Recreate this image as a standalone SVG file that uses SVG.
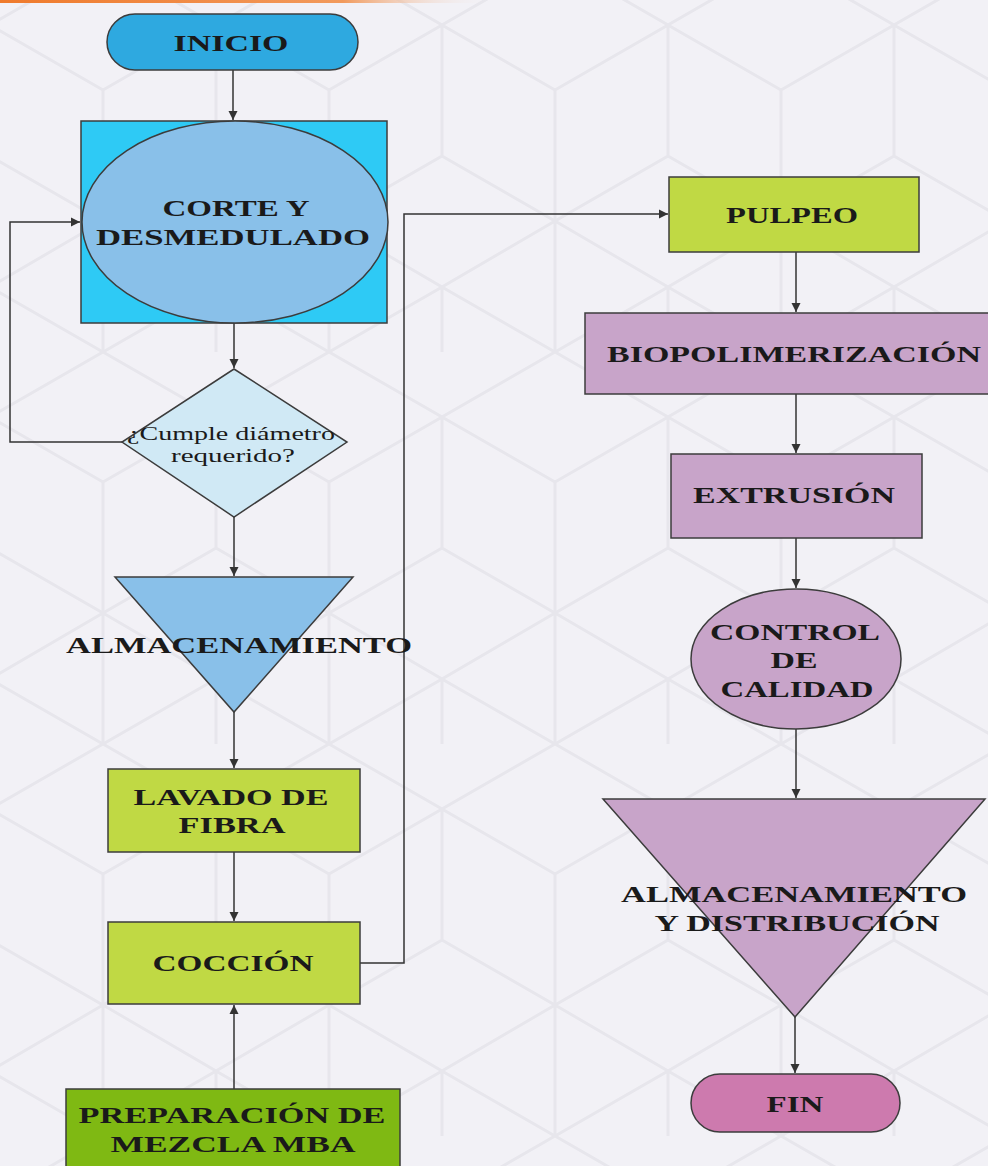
<svg xmlns="http://www.w3.org/2000/svg" width="988" height="1166" viewBox="0 0 988 1166">
<style>
.s{stroke:#3c3c3c;stroke-width:1.5}
.t{font-family:"Liberation Serif","Times New Roman",serif;font-weight:bold;font-size:23px;fill:#1a1a1a;text-anchor:middle}
.r{font-family:"Liberation Serif","Times New Roman",serif;font-size:18px;fill:#1a1a1a;text-anchor:middle}
.c{fill:none;stroke:#333;stroke-width:1.5}
</style>
<defs>
<marker id="ah" viewBox="0 0 10 10" refX="10" refY="5" markerWidth="9" markerHeight="10" markerUnits="userSpaceOnUse" orient="auto">
<path d="M0,0 L10,5 L0,10 Z" fill="#333"/>
</marker>
<linearGradient id="og" x1="0" x2="1" y1="0" y2="0">
<stop offset="0" stop-color="#ef7a2c"/>
<stop offset="0.7" stop-color="#f29a5c"/>
<stop offset="1" stop-color="#f2f1f6" stop-opacity="0"/>
</linearGradient>
<pattern id="hex" width="226" height="392" patternUnits="userSpaceOnUse" x="-10" y="-40">
<g fill="none" stroke="#e7e6ec" stroke-width="3">
<path d="M0,65 L113,0 L226,65 M113,0 L113,-130 M0,65 L0,196 L113,261 L226,196 L226,65 M113,130 L0,65 M113,130 L226,65 M113,130 L113,261 M113,261 L113,392 M0,196 L-113,261 M226,196 L339,261 M0,327 L113,392 L226,327 M0,327 L0,392 M226,327 L226,392 M0,327 L113,261 M226,327 L113,261"/>
</g>
</pattern>
</defs>
<rect width="988" height="1166" fill="#f2f1f6"/>
<rect width="988" height="1166" fill="url(#hex)"/>
<rect x="0" y="0" width="490" height="3" fill="url(#og)"/>

<g id="connectors">
<path class="c" d="M233,70 L233,120" marker-end="url(#ah)"/>
<path class="c" d="M234,323 L234,368" marker-end="url(#ah)"/>
<path class="c" d="M122,442 L10,442 L10,222 L80,222" marker-end="url(#ah)"/>
<path class="c" d="M234,517 L234,576" marker-end="url(#ah)"/>
<path class="c" d="M234,712 L234,768" marker-end="url(#ah)"/>
<path class="c" d="M234,852 L234,921" marker-end="url(#ah)"/>
<path class="c" d="M234,1089 L234,1005" marker-end="url(#ah)"/>
<path class="c" d="M360,963 L404,963 L404,214 L668,214" marker-end="url(#ah)"/>
<path class="c" d="M796,252 L796,312" marker-end="url(#ah)"/>
<path class="c" d="M796,394 L796,453" marker-end="url(#ah)"/>
<path class="c" d="M796,538 L796,588" marker-end="url(#ah)"/>
<path class="c" d="M796,728 L796,798" marker-end="url(#ah)"/>
<path class="c" d="M795,1017 L795,1073" marker-end="url(#ah)"/>
</g>

<g id="inicio">
<rect class="s" x="107" y="14" width="251" height="56" rx="28" fill="#2ea9e0"/>
<text class="t" x="231" y="51" textLength="115" lengthAdjust="spacingAndGlyphs">INICIO</text>
</g>

<g id="corte">
<rect class="s" x="81" y="121" width="306" height="202" fill="#2ecaf5"/>
<ellipse class="s" cx="235" cy="222" rx="153" ry="101" fill="#89c0e9"/>
<text class="t" x="236" y="216" textLength="147" lengthAdjust="spacingAndGlyphs">CORTE Y</text>
<text class="t" x="233" y="245" textLength="274" lengthAdjust="spacingAndGlyphs">DESMEDULADO</text>
</g>

<g id="decision">
<polygon class="s" points="234,369 347,442 234,517 122,442" fill="#d0e9f5"/>
<text class="r" x="231" y="440" textLength="208" lengthAdjust="spacingAndGlyphs">¿Cumple diámetro</text>
<text class="r" x="233" y="462" textLength="124" lengthAdjust="spacingAndGlyphs">requerido?</text>
</g>

<g id="almacenamiento1">
<polygon class="s" points="115,577 353,577 234,712" fill="#89c0e9"/>
<text class="t" x="239" y="653" textLength="346" lengthAdjust="spacingAndGlyphs">ALMACENAMIENTO</text>
</g>

<g id="lavado">
<rect class="s" x="108" y="769" width="252" height="83" fill="#c0d944"/>
<text class="t" x="231" y="805" textLength="195" lengthAdjust="spacingAndGlyphs">LAVADO DE</text>
<text class="t" x="232" y="833" textLength="107" lengthAdjust="spacingAndGlyphs">FIBRA</text>
</g>

<g id="coccion">
<rect class="s" x="108" y="922" width="252" height="82" fill="#c0d944"/>
<text class="t" x="233" y="971" textLength="161" lengthAdjust="spacingAndGlyphs">COCCIÓN</text>
</g>

<g id="preparacion">
<rect class="s" x="66" y="1089" width="334" height="90" fill="#7fb913"/>
<text class="t" x="232" y="1123" textLength="307" lengthAdjust="spacingAndGlyphs">PREPARACIÓN DE</text>
<text class="t" x="233" y="1152" textLength="245" lengthAdjust="spacingAndGlyphs">MEZCLA  MBA</text>
</g>

<g id="pulpeo">
<rect class="s" x="669" y="177" width="250" height="75" fill="#c0d944"/>
<text class="t" x="792" y="223" textLength="132" lengthAdjust="spacingAndGlyphs">PULPEO</text>
</g>

<g id="biopolimerizacion">
<rect class="s" x="585" y="313" width="410" height="81" fill="#c8a4c9"/>
<text class="t" x="794" y="362" textLength="374" lengthAdjust="spacingAndGlyphs">BIOPOLIMERIZACIÓN</text>
</g>

<g id="extrusion">
<rect class="s" x="671" y="454" width="251" height="84" fill="#c8a4c9"/>
<text class="t" x="794" y="503" textLength="202" lengthAdjust="spacingAndGlyphs">EXTRUSIÓN</text>
</g>

<g id="control">
<ellipse class="s" cx="796" cy="659" rx="105" ry="70" fill="#c8a4c9"/>
<text class="t" x="795" y="640" textLength="170" lengthAdjust="spacingAndGlyphs">CONTROL</text>
<text class="t" x="794" y="668" textLength="47" lengthAdjust="spacingAndGlyphs">DE</text>
<text class="t" x="797" y="697" textLength="153" lengthAdjust="spacingAndGlyphs">CALIDAD</text>
</g>

<g id="almacenamiento2">
<polygon class="s" points="603,799 985,799 795,1017" fill="#c8a4c9"/>
<text class="t" x="794" y="902" textLength="346" lengthAdjust="spacingAndGlyphs">ALMACENAMIENTO</text>
<text class="t" x="797" y="931" textLength="285" lengthAdjust="spacingAndGlyphs">Y DISTRIBUCIÓN</text>
</g>

<g id="fin">
<rect class="s" x="691" y="1074" width="209" height="58" rx="29" fill="#cd7aae"/>
<text class="t" x="795" y="1112" textLength="57" lengthAdjust="spacingAndGlyphs">FIN</text>
</g>
</svg>
